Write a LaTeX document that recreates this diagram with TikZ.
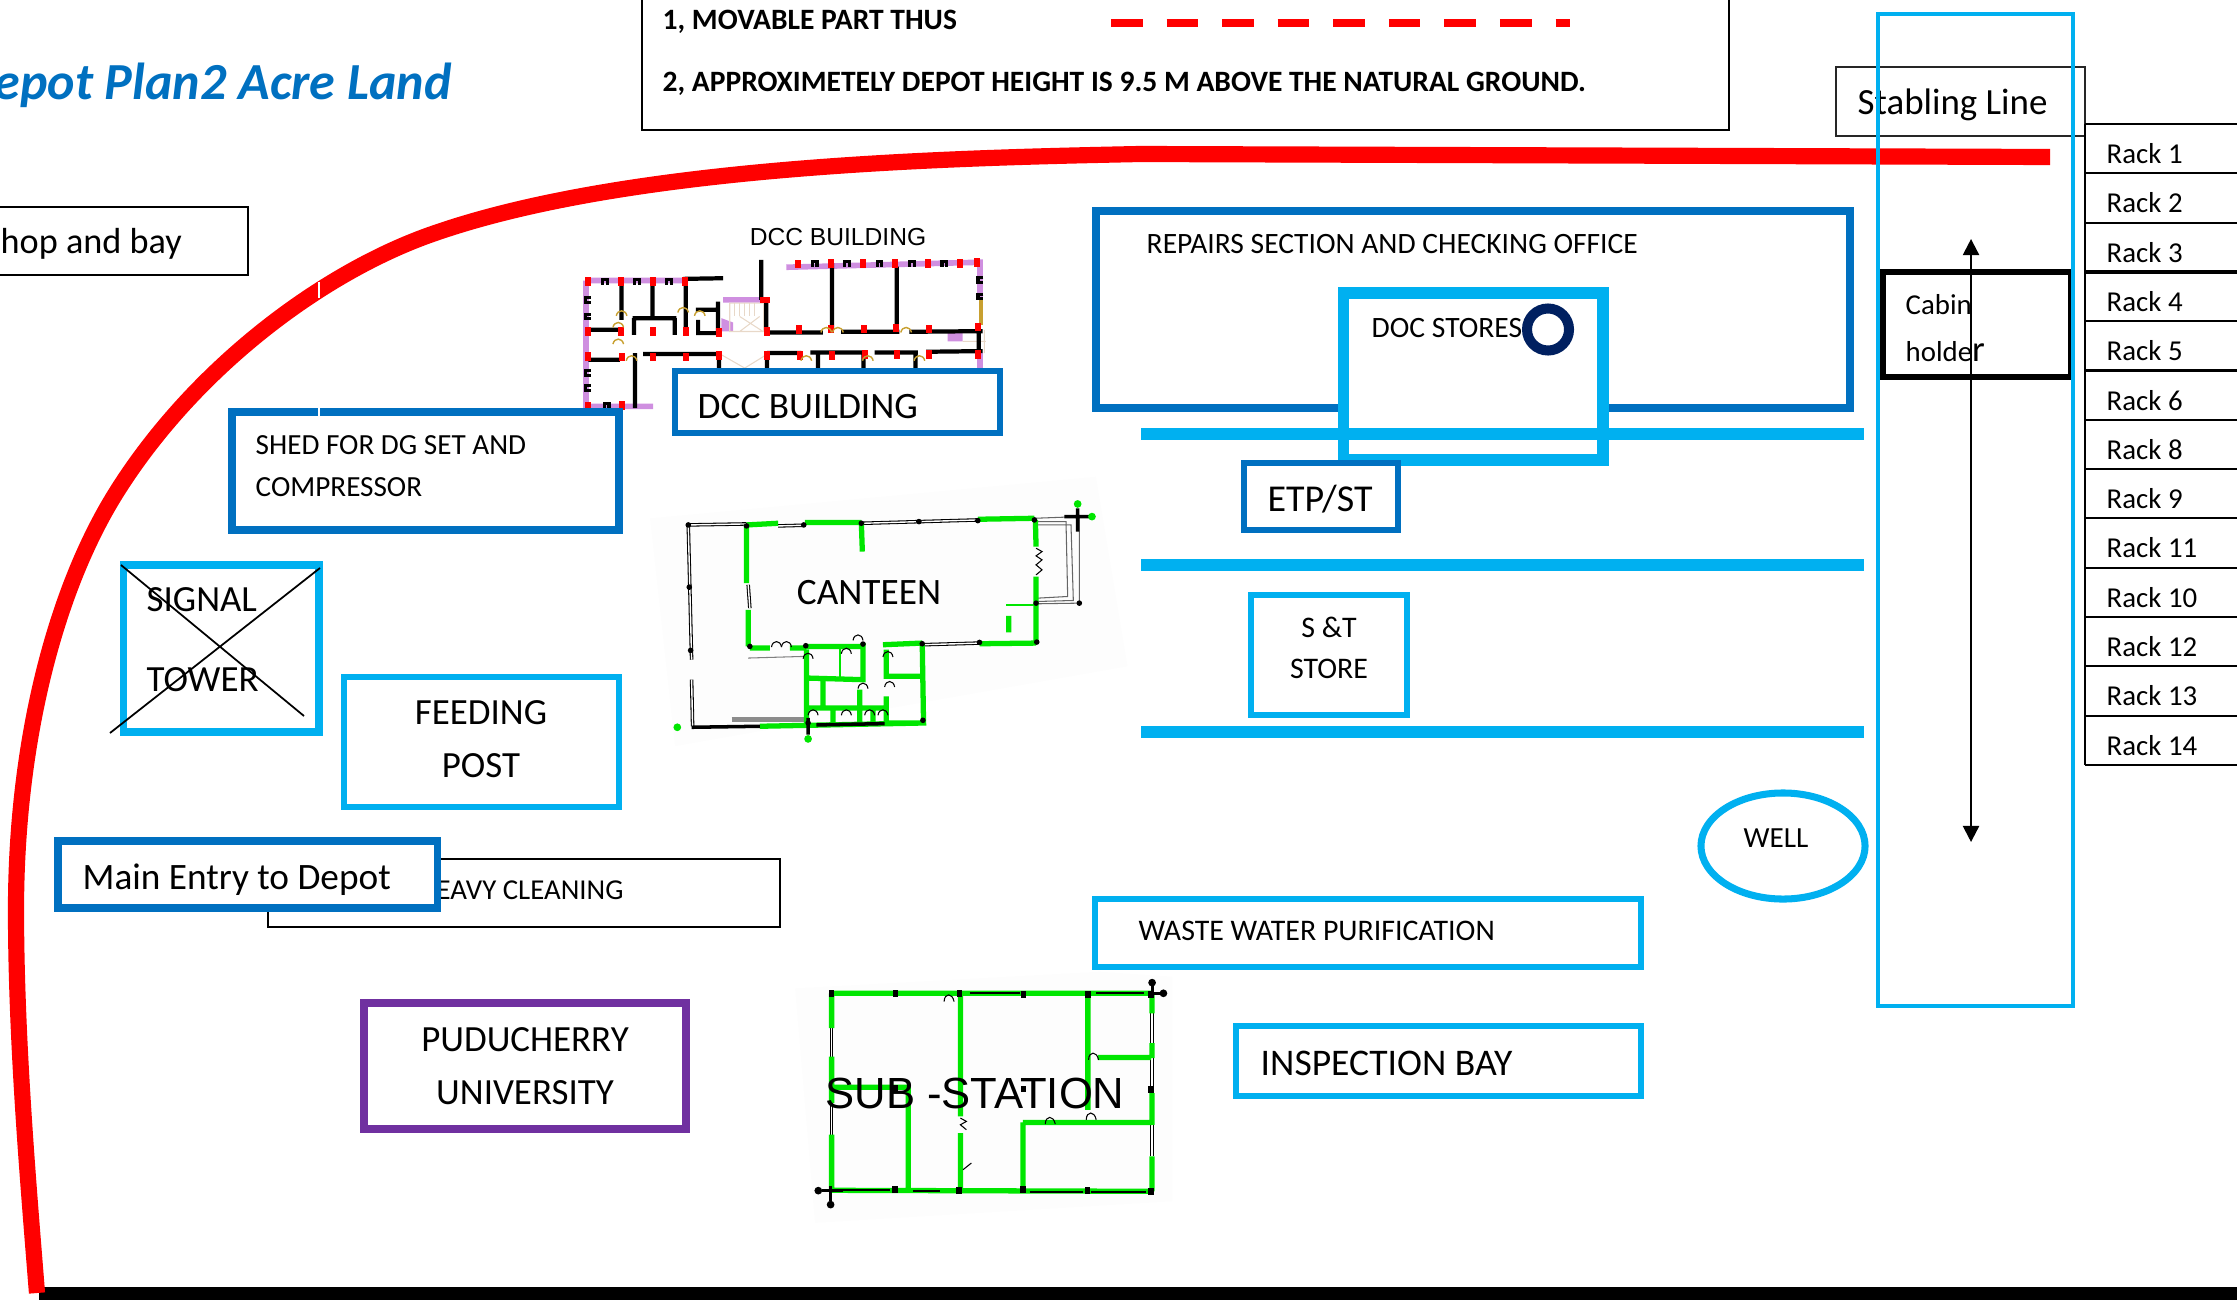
\documentclass[tikz,border=0pt]{standalone}
\usepackage{fontspec}
\setmainfont{Carlito}
\newfontfamily\arialfont{Liberation Sans}
\usetikzlibrary{arrows.meta,positioning,calc}
\definecolor{dBlue}{HTML}{0070C0}
\definecolor{lBlue}{HTML}{00B0F0}
\definecolor{dNavy}{HTML}{002060}
\definecolor{uniPurple}{HTML}{7030A0}
\definecolor{wallGreen}{HTML}{00E600}
\definecolor{wallPink}{HTML}{CF8FE0}
\definecolor{doorGold}{HTML}{C8A030}
\definecolor{stairTan}{HTML}{E8D8C8}
\definecolor{planBack}{HTML}{FDFDFD}
\tikzset{
  darkBox/.style={draw=dBlue, line width=2.2pt, fill=white},
  lightBox/.style={draw=lBlue, line width=1.7pt, fill=white},
  thinBox/.style={draw=black, line width=0.5pt, fill=white},
  bandLine/.style={lBlue, line width=3.2pt},
  label/.style={anchor=west, inner sep=0pt, font=\fontsize{8.4}{10}\selectfont},
  bigLabel/.style={anchor=west, inner sep=0pt, font=\fontsize{10.6}{12}\selectfont},
  blockText/.style={align=center, inner sep=0pt, font=\fontsize{10.5}{14.9}\selectfont},
  legendText/.style={anchor=west, inner sep=0pt, font=\fontsize{8.4}{10}\selectfont\bfseries},
  rackText/.style={anchor=west, inner sep=0pt, font=\fontsize{8.2}{10}\selectfont},
  wallG/.style={wallGreen, line width=1.5pt},
  wallThin/.style={black, line width=0.3pt},
  doorArc/.style={black, line width=0.3pt},
  goldArc/.style={doorGold, line width=0.4pt},
}
\begin{document}
\begin{tikzpicture}[x=0.01cm, y=-0.01cm]
\useasboundingbox (0,0) rectangle (2237,1300);
\clip (0,0) rectangle (2237,1300);

% ---- boundary ----
\fill[black] (39,1287) rectangle (2237,1300);
\draw[red, line width=4.6pt] (2050,157) -- (1140,154)
  .. controls (950,158) and (620,165) .. (424,237)
  .. controls (314,278) and (191,373) .. (116,493)
  .. controls (56,589) and (16,740) .. (16,910)
  .. controls (16,1040) and (28,1180) .. (37,1293);
\draw[white, line width=0.3pt] (319,282) -- (319,298);

% ---- title and legend ----
\node[anchor=west, inner sep=0pt, text=dBlue, font=\fontsize{14.8}{16}\selectfont\bfseries\itshape]
  (titleLbl) at (-6,85) {epot Plan2 Acre Land};
\draw[black, line width=0.6pt] (642,-10) rectangle (1729,130);
\node[legendText] (legendA) at (662,22) {1, MOVABLE PART THUS};
\node[legendText] (legendB) at (662,84) {2, APPROXIMETELY DEPOT HEIGHT IS 9.5 M ABOVE THE NATURAL GROUND.};
\draw[red, line width=2pt, dash pattern=on 9pt off 6.8pt] (1111,23) -- (1570,23);

% ---- left column of boxes ----
\draw[thinBox] (-10,207) rectangle (248,275);
\node[bigLabel, font=\fontsize{10.3}{12}\selectfont] (shopLbl) at (0,244) {hop and bay};

% DCC plan, traced in zoomed units
\begin{scope}[shift={(560,210)}, x=0.003333cm, y=-0.003333cm]
  \draw[wallPink, line width=1.6pt] (78,212) -- (385,212) (78,212) -- (78,590) -- (280,590)
    (680,172) -- (1262,157) -- (1262,270) (1262,430) -- (1262,480) (490,270) -- (610,270);
  \fill[wallPink] (485,325) -- (520,338) -- (520,365) -- (485,365) -- cycle
    (1165,365) -- (1210,368) -- (1210,395) -- (1165,395) -- cycle;
  \draw[stairTan, line width=0.3pt] (510,280) rectangle (612,365) (540,320) -- (610,365) (540,365) -- (600,320)
    (485,435) -- (555,475) -- (620,435) (1210,395) -- (1280,395) (1275,360) -- (1275,430);
  \foreach \sx in {525,540,...,585} \draw[stairTan, line width=0.3pt] (\sx,280) -- (\sx,320);
  \draw[black, line width=1.2pt] (370,207) -- (490,205)
    (185,215) -- (185,330) (278,215) -- (278,320) (378,215) -- (378,370)
    (218,325) -- (350,325) (222,325) -- (222,375) (345,325) -- (345,375)
    (85,360) -- (180,360) (85,450) -- (180,450)
    (408,300) -- (475,300) (475,275) -- (475,370) (415,330) -- (415,370) -- (475,370)
    (620,270) -- (620,365) (622,368) -- (790,368) (845,366) -- (1020,366) (1050,366) -- (1270,364)
    (817,160) -- (817,360) (1012,170) -- (1012,345)
    (250,433) -- (478,433) (622,430) -- (725,430) (752,428) -- (920,428) (945,428) -- (1075,428)
    (1100,426) -- (1270,424) (225,430) -- (225,595)
    (478,433) -- (478,480) (622,430) -- (622,480) (775,430) -- (775,480) (912,430) -- (912,480)
    (1068,430) -- (1068,480) (1258,345) -- (1258,430) (605,150) -- (605,270);
  \draw[doorGold, line width=1.4pt] (1265,270) -- (1265,345);
  \foreach \ux/\uy in {135/215,232/215,328/215,765/162,862/162,960/160,1058/160,1155/160,140/588}
    \draw[black, line width=0.9pt] (\ux-7,\uy+10) -- (\ux-7,\uy-6) -- (\ux+7,\uy-6) -- (\ux+7,\uy+10);
  \foreach \ux/\uy in {82/270,82/320,82/490,82/535,1262/210,1262/260}
    \draw[black, line width=0.9pt] (\ux+10,\uy-7) -- (\ux-6,\uy-7) -- (\ux-6,\uy+7) -- (\ux+10,\uy+7);
  \foreach \px/\py in {85/215,182/215,280/215,375/215,715/162,815/160,910/160,1008/160,1105/160,
      1203/160,1253/158,85/365,182/365,280/365,378/365,478/368,622/365,718/360,815/358,912/358,
      1010/355,1108/358,1255/352,85/440,185/442,280/442,378/442,478/438,622/438,720/438,817/438,
      915/435,1012/435,1108/435,1255/435,85/590,185/588}
    \fill[red] (\px-9,\py-13) rectangle (\px+9,\py+13);
  \fill[red] (600,260) rectangle (632,280);
  \foreach \dx/\dy in {185/310,370/300,420/310,175/345,175/395,215/445,800/360,835/360,740/445,925/445,1080/445,1040/360}
    \draw[goldArc] (\dx-16,\dy+8) .. controls (\dx-12,\dy-12) and (\dx+12,\dy-12) .. (\dx+16,\dy+8);
\end{scope}
\node[inner sep=0pt, font=\arialfont\fontsize{7}{9}\selectfont] (dccTop) at (838,237) {DCC BUILDING};
\draw[darkBox, line width=1.7pt] (675,371) rectangle (1000,433);
\node[bigLabel] (dccLbl) at (697,407) {DCC BUILDING};

\draw[darkBox] (232,412) rectangle (619,530);
\draw[white, line width=0.3pt] (319,408) -- (319,417);
\node[label, align=left, font=\fontsize{8.3}{11.8}\selectfont] (shedLbl) at (255,466) {SHED FOR DG SET AND\\COMPRESSOR};

\draw[lightBox, line width=2.1pt] (123.5,565) rectangle (319,732);
\node[blockText, anchor=west, align=left, font=\fontsize{10.5}{22.7}\selectfont] (signalLbl) at (146,640) {SIGNAL\\TOWER};
\draw[black, line width=0.5pt] (121,565) -- (304,716) (110,733) -- (320,568);

\draw[lightBox] (344,677) rectangle (619,807);
\node[blockText] (feedLbl) at (481,739) {FEEDING\\POST};

\draw[thinBox] (268,859) rectangle (780,927);
\node[label, font=\fontsize{8.2}{10}\selectfont] (heavyLbl) at (436,890) {EAVY CLEANING};
\draw[darkBox] (58,841) rectangle (437.5,908);
\node[bigLabel] (entryLbl) at (82,880) {Main Entry to Depot};

\draw[draw=uniPurple, line width=2.2pt] (364,1003) rectangle (686,1129);
\node[blockText] (uniLbl) at (525,1066) {PUDUCHERRY\\UNIVERSITY};

% Canteen plan, traced in zoomed units
\begin{scope}[shift={(650,480)}, x=0.003333cm, y=-0.003333cm]
  \fill[planBack] (0,115) -- (1340,-10) -- (1435,560) -- (75,800) -- cycle;
  \draw[wallThin, double, double distance=0.4pt] (115,135) -- (290,132) (115,135) -- (125,540) (125,600) -- (128,740)
    (640,130) -- (985,120) (385,138) -- (460,136) (295,315) -- (300,385) (818,495) -- (990,490);
  \draw[black!60, line width=0.3pt] (1155,115) -- (1290,110) -- (1290,370) -- (1160,372)
    (1165,125) -- (1250,125) -- (1255,350) -- (1165,355) (1165,135) -- (1265,135) -- (1272,362) -- (1165,365);
  \draw[black!50, line width=0.3pt] (295,535) -- (465,530);
  \draw[black!45, line width=1.5pt] (245,720) -- (465,720);
  \draw[wallG] (290,135) -- (290,310) (295,390) -- (295,500) (290,135) -- (385,130) (465,128) -- (635,128)
    (635,128) -- (638,215) (985,118) -- (1155,115) (1158,120) -- (1160,200) (1160,290) -- (1160,490)
    (1160,490) -- (990,492) (818,490) -- (700,495) (818,490) -- (822,735)
    (710,510) -- (710,590) -- (820,590) (712,730) -- (822,730) (640,490) -- (640,600) -- (470,595)
    (470,500) -- (640,500) (300,505) -- (360,505) (420,505) -- (470,505) (470,510) -- (470,740)
    (520,600) -- (520,680) (470,685) -- (710,685) (630,630) -- (630,740) (550,690) -- (550,740)
    (670,690) -- (670,740) (710,650) -- (710,730) (330,740) -- (830,730) (1078,408) -- (1078,458);
  \draw[wallGreen, line width=0.5pt] (1070,375) -- (1160,375) (570,500) -- (570,595);
  \draw[black, line width=1pt] (125,743) -- (330,740) (500,736) -- (705,732) (1285,85) -- (1285,155) (1245,110) -- (1320,110)
    (475,715) -- (475,765);
  \foreach \gx/\gy in {1285/72,1328/110,82/743,475/778}
    \fill[wallGreen] (\gx,\gy) circle (1.1pt);
  \foreach \bx/\by in {115/135,118/322,122/512,290/138,635/130,808/125,985/122,1155/120,1290/370,1160/370,
      300/500,468/498,640/493,818/492,990/488,1162/487,475/730,820/722,462/135}
    \fill[black] (\bx,\by) circle (0.8pt);
  \foreach \dx/\dy in {380/490,410/490,590/510,625/470,640/615,720/610,490/695,590/695,660/695,700/695,715/520,475/525}
    \draw[doorArc] (\dx-15,\dy+12) .. controls (\dx-12,\dy-10) and (\dx+12,\dy-10) .. (\dx+15,\dy+12);
  \draw[doorArc] (1160,205) -- (1178,215) -- (1160,228) -- (1178,240) -- (1160,255) -- (1178,270) -- (1160,285);
\end{scope}
\node[inner sep=0pt, font=\fontsize{10.6}{12}\selectfont] (canteenLbl) at (869,593) {CANTEEN};

% ---- sub-station plan, traced in zoomed units ----
\begin{scope}[shift={(790,960)}, x=0.003333cm, y=-0.003333cm]
  \fill[planBack] (15,85) -- (930,35) -- (1150,50) -- (1150,725) -- (75,790) -- cycle;
  \draw[wallThin, double, double distance=0.4pt] (125,205) -- (125,290) (125,430) -- (125,525) (1088,160) -- (1088,250)
    (1088,295) -- (1088,400) (1088,495) -- (1088,590) (735,100) -- (810,100);
  \draw[wallG] (125,100) -- (1085,100) (125,100) -- (125,205) (125,290) -- (125,430) (125,525) -- (125,690)
    (125,692) -- (1090,695) (512,100) -- (512,470) (512,520) -- (512,690) (895,100) -- (895,450)
    (925,293) -- (1085,293) (1088,100) -- (1088,160) (1088,250) -- (1088,295) (1088,400) -- (1088,495)
    (1088,590) -- (1088,695) (700,488) -- (1088,488) (700,488) -- (700,695)
    (125,382) -- (355,382) -- (355,695);
  \draw[black, line width=0.6pt] (540,100) -- (690,100) (920,100) -- (1065,100) (135,692) -- (300,692)
    (370,694) -- (450,694) (720,696) -- (880,696) (905,696) -- (1070,696);
  \foreach \kx/\ky in {125/100,317/100,510/100,702/103,895/103,1085/103,317/385,702/388,1085/390,
      315/690,508/693,700/690,893/692,1085/695}
    \fill[black] (\kx-8,\ky-10) rectangle (\kx+8,\ky+10);
  \draw[black, line width=0.9pt] (1088,75) -- (1088,115) (1075,100) -- (1115,100) (122,680) -- (122,725) (95,693) -- (160,693);
  \foreach \kx/\ky in {1088/68,1122/100,85/693,122/735}
    \fill[black] (\kx,\ky) circle (1.1pt);
  \foreach \dx/\dy in {478/110,912/285,782/478,905/465}
    \draw[doorArc] (\dx-15,\dy+15) .. controls (\dx-14,\dy-12) and (\dx+10,\dy-12) .. (\dx+15,\dy+15);
  \draw[doorArc] (512,475) -- (530,485) -- (512,495) -- (530,510) (520,630) -- (545,610);
\end{scope}
\node[inner sep=0pt, font=\arialfont\fontsize{12.4}{14}\selectfont] (subLbl) at (975,1093) {SUB -STATION};

% ---- right block ----
\draw[darkBox] (1096,211) rectangle (1850,408);
\node[label] (repairLbl) at (1146,244) {REPAIRS SECTION AND CHECKING OFFICE};
\draw[lightBox, line width=3.3pt] (1343.5,293) rectangle (1603,460);
\node[label] (docLbl) at (1371,328) {DOC STORES};
\draw[draw=dNavy, line width=2.85pt, fill=white] (1548,329.5) circle (0.21cm);

\foreach \bandY in {434,565,732}
  \draw[bandLine] (1141,\bandY) -- (1864,\bandY);

\draw[darkBox, line width=1.7pt] (1244,463) rectangle (1397.5,530);
\node[inner sep=0pt, font=\fontsize{10.8}{12}\selectfont] (etpLbl) at (1320,499) {ETP/ST};
\draw[lightBox] (1251,595) rectangle (1407,715);
\node[blockText, font=\fontsize{8.5}{11.8}\selectfont] (stLbl) at (1329,648) {S \&T\\STORE};

\draw[lBlue, line width=2pt] (1783,846) ellipse [x radius=0.82cm, y radius=0.53cm];
\node[inner sep=0pt, font=\fontsize{8.3}{10}\selectfont] (wellLbl) at (1776,838) {WELL};

\draw[lightBox] (1095,899) rectangle (1641,967);
\node[label, font=\fontsize{8.5}{10}\selectfont] (wasteLbl) at (1138,931) {WASTE WATER PURIFICATION};
\draw[lightBox] (1236,1026) rectangle (1641,1096);
\node[bigLabel, font=\fontsize{10.7}{12}\selectfont] (inspectLbl) at (1260,1063) {INSPECTION BAY};

% ---- stabling line and racks ----
\draw[black!85, line width=0.6pt] (1836,67) rectangle (2085,136);
\node[bigLabel, font=\fontsize{10.5}{12}\selectfont] (stablingLbl) at (1857,105) {Stabling Line};

\draw[black, line width=0.6pt] (2085,124) -- (2085,765);
\foreach \rackY in {124,173.3,222.6,321.2,370.5,419.8,469.1,518.4,567.7,617,666.3,715.6,765}
  \draw[black, line width=0.6pt] (2085,\rackY) -- (2237,\rackY);
\draw[black, line width=1pt] (2085,271.9) -- (2237,271.9);
\foreach \rackName [count=\rackI] in {1,2,3,4,5,6,8,9,11,10,12,13,14}
  \node[rackText] (rack\rackI) at (2106,{129+49.3*(\rackI-0.5)}) {Rack \rackName};

\draw[black, line width=1.8pt, fill=white] (1883,272) rectangle (2071,377);
\node[rackText, align=left, font=\fontsize{8.2}{13.6}\selectfont] (cabinLbl) at (1905,328) {Cabin\\holde{\fontsize{10.4}{13.6}\selectfont r}};
\draw[lBlue, line width=0.9pt] (1878,14) rectangle (2073,1006);

\coordinate (railTop) at (1971,239);
\coordinate (railEnd) at (1971,842);
\draw[{Triangle[length=4.6pt, width=4.6pt]}-{Triangle[length=4.6pt, width=4.6pt]}, black, line width=0.6pt] (railTop) -- (railEnd);
\end{tikzpicture}
\end{document}
